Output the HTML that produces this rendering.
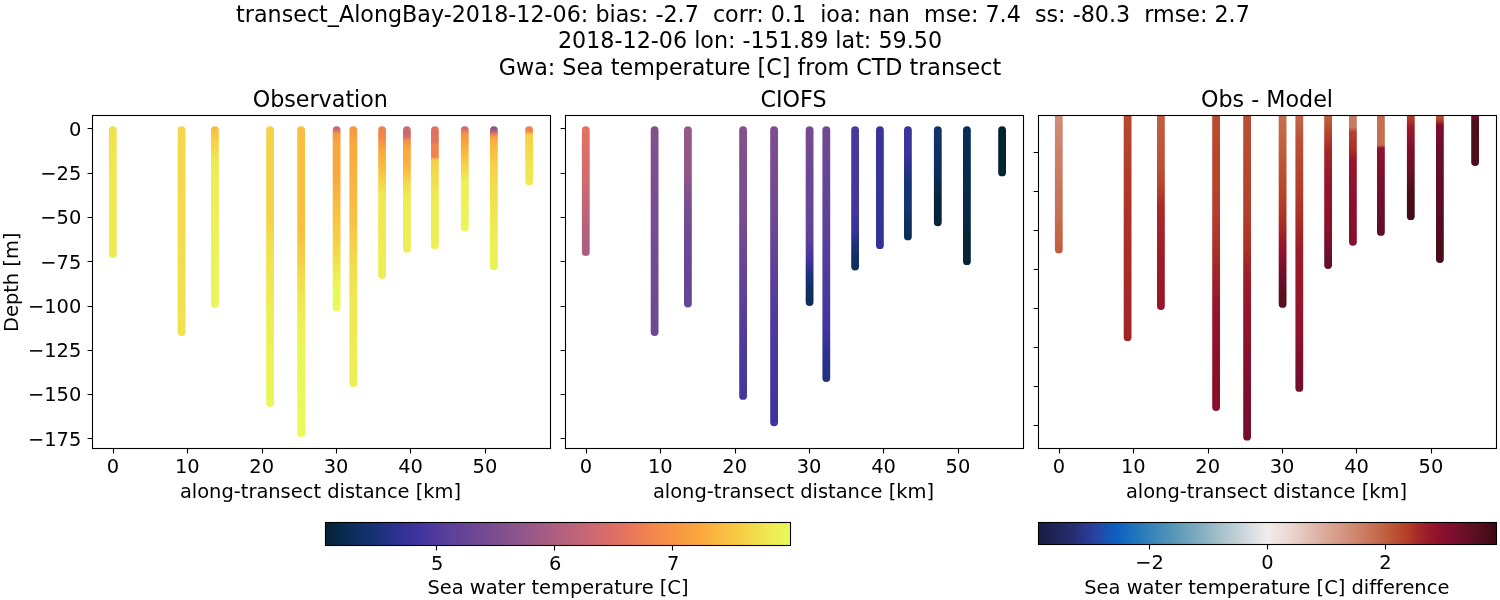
<!DOCTYPE html>
<html lang="en"><head><meta charset="utf-8"><title>transect_AlongBay-2018-12-06</title>
<style>html,body{margin:0;padding:0;background:#fff;}body{width:1500px;height:600px;overflow:hidden;}svg{display:block;}text{font-family:"DejaVu Sans","Liberation Sans",sans-serif;fill:#000;font-variant-ligatures:none;font-feature-settings:"liga" 0,"clig" 0;}.t16{font-size:22.222px;}.t14{font-size:19.444px;}.m{text-anchor:middle;}.e{text-anchor:end;}</style></head><body>
<svg width="1500" height="600" viewBox="0 0 1500 600">
<rect x="0" y="0" width="1500" height="600" fill="#ffffff"/>
<defs>
<linearGradient id="a0" gradientUnits="userSpaceOnUse" x1="0" y1="126" x2="0" y2="258">
<stop offset="0.0000" stop-color="#F2DE4D"/>
<stop offset="0.3333" stop-color="#F0E851"/>
<stop offset="1.0000" stop-color="#EFEA52"/>
</linearGradient>
<linearGradient id="b0" gradientUnits="userSpaceOnUse" x1="0" y1="126" x2="0" y2="256">
<stop offset="0.0000" stop-color="#E37260"/>
<stop offset="0.3385" stop-color="#D56C6B"/>
<stop offset="0.6538" stop-color="#BF6478"/>
<stop offset="1.0000" stop-color="#A75E82"/>
</linearGradient>
<linearGradient id="c0" gradientUnits="userSpaceOnUse" x1="0" y1="115" x2="0" y2="253">
<stop offset="0.0000" stop-color="#D08D76"/>
<stop offset="0.6957" stop-color="#C67053"/>
<stop offset="1.0000" stop-color="#BF5E3E"/>
</linearGradient>
<linearGradient id="a1" gradientUnits="userSpaceOnUse" x1="0" y1="126" x2="0" y2="336">
<stop offset="0.0000" stop-color="#F4D74A"/>
<stop offset="0.4952" stop-color="#F3DC4C"/>
<stop offset="1.0000" stop-color="#F1E34F"/>
</linearGradient>
<linearGradient id="b1" gradientUnits="userSpaceOnUse" x1="0" y1="126" x2="0" y2="336">
<stop offset="0.0000" stop-color="#84518D"/>
<stop offset="0.3524" stop-color="#794D90"/>
<stop offset="0.8286" stop-color="#704993"/>
<stop offset="1.0000" stop-color="#6D4794"/>
</linearGradient>
<linearGradient id="c1" gradientUnits="userSpaceOnUse" x1="0" y1="115" x2="0" y2="341">
<stop offset="0.0000" stop-color="#B7492F"/>
<stop offset="0.4248" stop-color="#AD3429"/>
<stop offset="0.8496" stop-color="#A52827"/>
<stop offset="1.0000" stop-color="#A32427"/>
</linearGradient>
<linearGradient id="a2" gradientUnits="userSpaceOnUse" x1="0" y1="126" x2="0" y2="308">
<stop offset="0.0000" stop-color="#F9BA41"/>
<stop offset="0.0769" stop-color="#F6D047"/>
<stop offset="0.2143" stop-color="#EEEC53"/>
<stop offset="0.4066" stop-color="#EDEF55"/>
<stop offset="1.0000" stop-color="#EAF659"/>
</linearGradient>
<linearGradient id="b2" gradientUnits="userSpaceOnUse" x1="0" y1="126" x2="0" y2="307">
<stop offset="0.0000" stop-color="#965988"/>
<stop offset="0.2983" stop-color="#8E568A"/>
<stop offset="0.4365" stop-color="#794D90"/>
<stop offset="0.7403" stop-color="#6A4695"/>
<stop offset="1.0000" stop-color="#644497"/>
</linearGradient>
<linearGradient id="c2" gradientUnits="userSpaceOnUse" x1="0" y1="115" x2="0" y2="310">
<stop offset="0.0000" stop-color="#C06140"/>
<stop offset="0.2821" stop-color="#BA5034"/>
<stop offset="0.3846" stop-color="#B4412B"/>
<stop offset="0.4615" stop-color="#A82C28"/>
<stop offset="0.7436" stop-color="#9B1C29"/>
<stop offset="1.0000" stop-color="#96162B"/>
</linearGradient>
<linearGradient id="a3" gradientUnits="userSpaceOnUse" x1="0" y1="126" x2="0" y2="407">
<stop offset="0.0000" stop-color="#F5D348"/>
<stop offset="0.3345" stop-color="#F5D348"/>
<stop offset="0.4413" stop-color="#F2E14E"/>
<stop offset="0.7260" stop-color="#EDEF55"/>
<stop offset="1.0000" stop-color="#EAF659"/>
</linearGradient>
<linearGradient id="b3" gradientUnits="userSpaceOnUse" x1="0" y1="126" x2="0" y2="400">
<stop offset="0.0000" stop-color="#84518D"/>
<stop offset="0.3102" stop-color="#794D90"/>
<stop offset="0.5255" stop-color="#674596"/>
<stop offset="0.6606" stop-color="#5A3F9A"/>
<stop offset="0.8175" stop-color="#4D3A9C"/>
<stop offset="1.0000" stop-color="#44369E"/>
</linearGradient>
<linearGradient id="c3" gradientUnits="userSpaceOnUse" x1="0" y1="115" x2="0" y2="411">
<stop offset="0.0000" stop-color="#B84C31"/>
<stop offset="0.3243" stop-color="#B4412B"/>
<stop offset="0.4561" stop-color="#AA3028"/>
<stop offset="0.5574" stop-color="#A02128"/>
<stop offset="0.6486" stop-color="#96162B"/>
<stop offset="0.7939" stop-color="#8E112C"/>
<stop offset="1.0000" stop-color="#840F2D"/>
</linearGradient>
<linearGradient id="a4" gradientUnits="userSpaceOnUse" x1="0" y1="126" x2="0" y2="437">
<stop offset="0.0000" stop-color="#F9BF42"/>
<stop offset="0.3505" stop-color="#F8C142"/>
<stop offset="0.4309" stop-color="#F6D047"/>
<stop offset="0.5595" stop-color="#F0E851"/>
<stop offset="0.7203" stop-color="#EAF659"/>
<stop offset="1.0000" stop-color="#E8FA5B"/>
</linearGradient>
<linearGradient id="b4" gradientUnits="userSpaceOnUse" x1="0" y1="126" x2="0" y2="426">
<stop offset="0.0000" stop-color="#7D4E8F"/>
<stop offset="0.2833" stop-color="#704993"/>
<stop offset="0.4467" stop-color="#614298"/>
<stop offset="0.6033" stop-color="#513B9C"/>
<stop offset="0.7467" stop-color="#49389D"/>
<stop offset="1.0000" stop-color="#3C339C"/>
</linearGradient>
<linearGradient id="c4" gradientUnits="userSpaceOnUse" x1="0" y1="115" x2="0" y2="440">
<stop offset="0.0000" stop-color="#BA5034"/>
<stop offset="0.2954" stop-color="#B4412B"/>
<stop offset="0.4154" stop-color="#AA3028"/>
<stop offset="0.4923" stop-color="#9E1E29"/>
<stop offset="0.5908" stop-color="#96162B"/>
<stop offset="0.7231" stop-color="#8A112D"/>
<stop offset="0.8769" stop-color="#7E0E2E"/>
<stop offset="1.0000" stop-color="#740E2C"/>
</linearGradient>
<linearGradient id="a5" gradientUnits="userSpaceOnUse" x1="0" y1="126" x2="0" y2="311">
<stop offset="0.0000" stop-color="#B8627B"/>
<stop offset="0.0216" stop-color="#D56C6B"/>
<stop offset="0.0432" stop-color="#F79942"/>
<stop offset="0.1027" stop-color="#FAA63C"/>
<stop offset="0.2649" stop-color="#FAA63C"/>
<stop offset="0.3459" stop-color="#F9B23F"/>
<stop offset="0.4811" stop-color="#F8C343"/>
<stop offset="0.6162" stop-color="#F6D047"/>
<stop offset="0.7784" stop-color="#F0E851"/>
<stop offset="0.8865" stop-color="#E8FA5B"/>
<stop offset="1.0000" stop-color="#E8FA5B"/>
</linearGradient>
<linearGradient id="b5" gradientUnits="userSpaceOnUse" x1="0" y1="126" x2="0" y2="306">
<stop offset="0.0000" stop-color="#764B91"/>
<stop offset="0.4722" stop-color="#674596"/>
<stop offset="0.6333" stop-color="#5E4199"/>
<stop offset="0.7444" stop-color="#40349F"/>
<stop offset="0.8278" stop-color="#1D327D"/>
<stop offset="0.9111" stop-color="#0E2F61"/>
<stop offset="1.0000" stop-color="#0C2E5C"/>
</linearGradient>
<linearGradient id="c5" gradientUnits="userSpaceOnUse" x1="0" y1="115" x2="0" y2="308">
<stop offset="0.0000" stop-color="#C67053"/>
<stop offset="0.2332" stop-color="#BD5739"/>
<stop offset="0.4404" stop-color="#B4412B"/>
<stop offset="0.5959" stop-color="#A52827"/>
<stop offset="0.6736" stop-color="#96162B"/>
<stop offset="0.7513" stop-color="#840F2D"/>
<stop offset="0.8549" stop-color="#6A0F29"/>
<stop offset="0.9585" stop-color="#570E20"/>
<stop offset="1.0000" stop-color="#570E20"/>
</linearGradient>
<linearGradient id="a6" gradientUnits="userSpaceOnUse" x1="0" y1="126" x2="0" y2="387">
<stop offset="0.0000" stop-color="#F79544"/>
<stop offset="0.0536" stop-color="#FAA63C"/>
<stop offset="0.1494" stop-color="#FAAE3E"/>
<stop offset="0.2835" stop-color="#F9BA41"/>
<stop offset="0.3793" stop-color="#F8C343"/>
<stop offset="0.5134" stop-color="#F4DA4B"/>
<stop offset="0.6667" stop-color="#F0E851"/>
<stop offset="1.0000" stop-color="#EDEF55"/>
</linearGradient>
<linearGradient id="b6" gradientUnits="userSpaceOnUse" x1="0" y1="126" x2="0" y2="382">
<stop offset="0.0000" stop-color="#704993"/>
<stop offset="0.3320" stop-color="#614298"/>
<stop offset="0.6797" stop-color="#49389D"/>
<stop offset="0.7969" stop-color="#40349F"/>
<stop offset="0.8945" stop-color="#2A3190"/>
<stop offset="1.0000" stop-color="#1D327D"/>
</linearGradient>
<linearGradient id="c6" gradientUnits="userSpaceOnUse" x1="0" y1="115" x2="0" y2="392">
<stop offset="0.0000" stop-color="#C46A4C"/>
<stop offset="0.0903" stop-color="#BA5034"/>
<stop offset="0.2347" stop-color="#B4412B"/>
<stop offset="0.3466" stop-color="#AD3429"/>
<stop offset="0.4152" stop-color="#A52827"/>
<stop offset="0.4874" stop-color="#9B1C29"/>
<stop offset="0.6679" stop-color="#96162B"/>
<stop offset="0.8123" stop-color="#8A112D"/>
<stop offset="0.9206" stop-color="#770E2D"/>
<stop offset="1.0000" stop-color="#710E2B"/>
</linearGradient>
<linearGradient id="a7" gradientUnits="userSpaceOnUse" x1="0" y1="126" x2="0" y2="279">
<stop offset="0.0000" stop-color="#ED7E53"/>
<stop offset="0.0784" stop-color="#F58B48"/>
<stop offset="0.1569" stop-color="#FAA63C"/>
<stop offset="0.2549" stop-color="#F9BA41"/>
<stop offset="0.3529" stop-color="#F6D047"/>
<stop offset="0.4510" stop-color="#F0E851"/>
<stop offset="1.0000" stop-color="#EEED54"/>
</linearGradient>
<linearGradient id="b7" gradientUnits="userSpaceOnUse" x1="0" y1="126" x2="0" y2="270">
<stop offset="0.0000" stop-color="#49389D"/>
<stop offset="0.5903" stop-color="#44369E"/>
<stop offset="0.7222" stop-color="#373399"/>
<stop offset="0.8264" stop-color="#1D327D"/>
<stop offset="0.9306" stop-color="#0E2F61"/>
<stop offset="1.0000" stop-color="#0C2E5C"/>
</linearGradient>
<linearGradient id="c7" gradientUnits="userSpaceOnUse" x1="0" y1="115" x2="0" y2="269">
<stop offset="0.0000" stop-color="#C06140"/>
<stop offset="0.1299" stop-color="#B4412B"/>
<stop offset="0.2273" stop-color="#A52827"/>
<stop offset="0.4221" stop-color="#96162B"/>
<stop offset="0.6234" stop-color="#8E112C"/>
<stop offset="0.7792" stop-color="#840F2D"/>
<stop offset="0.9091" stop-color="#6A0F29"/>
<stop offset="1.0000" stop-color="#640F26"/>
</linearGradient>
<linearGradient id="a8" gradientUnits="userSpaceOnUse" x1="0" y1="126" x2="0" y2="253">
<stop offset="0.0000" stop-color="#CB6873"/>
<stop offset="0.0787" stop-color="#CE6970"/>
<stop offset="0.1102" stop-color="#F58B48"/>
<stop offset="0.1732" stop-color="#FAA63C"/>
<stop offset="0.3071" stop-color="#F9B23F"/>
<stop offset="0.3858" stop-color="#F8C744"/>
<stop offset="0.4646" stop-color="#F2DE4D"/>
<stop offset="0.5827" stop-color="#EEEC53"/>
<stop offset="1.0000" stop-color="#EDEF55"/>
</linearGradient>
<linearGradient id="b8" gradientUnits="userSpaceOnUse" x1="0" y1="126" x2="0" y2="249">
<stop offset="0.0000" stop-color="#3C339C"/>
<stop offset="1.0000" stop-color="#333296"/>
</linearGradient>
<linearGradient id="c8" gradientUnits="userSpaceOnUse" x1="0" y1="115" x2="0" y2="246">
<stop offset="0.0000" stop-color="#CA7C62"/>
<stop offset="0.0916" stop-color="#CA7C62"/>
<stop offset="0.1298" stop-color="#B4412B"/>
<stop offset="0.2672" stop-color="#AA3028"/>
<stop offset="0.3435" stop-color="#96162B"/>
<stop offset="0.7328" stop-color="#8A112D"/>
<stop offset="1.0000" stop-color="#87102D"/>
</linearGradient>
<linearGradient id="a9" gradientUnits="userSpaceOnUse" x1="0" y1="126" x2="0" y2="249">
<stop offset="0.0000" stop-color="#E07062"/>
<stop offset="0.1301" stop-color="#E37260"/>
<stop offset="0.1463" stop-color="#EF8250"/>
<stop offset="0.2520" stop-color="#F2854D"/>
<stop offset="0.2764" stop-color="#F6D047"/>
<stop offset="0.4390" stop-color="#F2DE4D"/>
<stop offset="0.6016" stop-color="#EEEC53"/>
<stop offset="1.0000" stop-color="#EDEF55"/>
</linearGradient>
<linearGradient id="b9" gradientUnits="userSpaceOnUse" x1="0" y1="126" x2="0" y2="240">
<stop offset="0.0000" stop-color="#3C339C"/>
<stop offset="0.2544" stop-color="#3C339C"/>
<stop offset="0.4737" stop-color="#183276"/>
<stop offset="0.7456" stop-color="#143270"/>
<stop offset="0.8684" stop-color="#0C2E5C"/>
<stop offset="1.0000" stop-color="#0A2D57"/>
</linearGradient>
<linearGradient id="c9" gradientUnits="userSpaceOnUse" x1="0" y1="115" x2="0" y2="236">
<stop offset="0.0000" stop-color="#C67053"/>
<stop offset="0.2479" stop-color="#C67053"/>
<stop offset="0.2727" stop-color="#8E112C"/>
<stop offset="0.5372" stop-color="#7E0E2E"/>
<stop offset="0.7934" stop-color="#6A0F29"/>
<stop offset="1.0000" stop-color="#5D0E23"/>
</linearGradient>
<linearGradient id="a10" gradientUnits="userSpaceOnUse" x1="0" y1="126" x2="0" y2="231">
<stop offset="0.0000" stop-color="#C36576"/>
<stop offset="0.0286" stop-color="#D56C6B"/>
<stop offset="0.0667" stop-color="#F58B48"/>
<stop offset="0.1333" stop-color="#F99F3F"/>
<stop offset="0.2286" stop-color="#F9B23F"/>
<stop offset="0.3238" stop-color="#F8C744"/>
<stop offset="0.4190" stop-color="#F4DA4B"/>
<stop offset="0.5143" stop-color="#EDEF55"/>
<stop offset="1.0000" stop-color="#EAF659"/>
</linearGradient>
<linearGradient id="b10" gradientUnits="userSpaceOnUse" x1="0" y1="126" x2="0" y2="226">
<stop offset="0.0000" stop-color="#12316B"/>
<stop offset="0.4400" stop-color="#0C2E5C"/>
<stop offset="0.7400" stop-color="#05253A"/>
<stop offset="1.0000" stop-color="#05253A"/>
</linearGradient>
<linearGradient id="c10" gradientUnits="userSpaceOnUse" x1="0" y1="115" x2="0" y2="220">
<stop offset="0.0000" stop-color="#B6452C"/>
<stop offset="0.1143" stop-color="#9B1C29"/>
<stop offset="0.2857" stop-color="#840F2D"/>
<stop offset="0.5238" stop-color="#6A0F29"/>
<stop offset="0.7619" stop-color="#490C19"/>
<stop offset="1.0000" stop-color="#430A16"/>
</linearGradient>
<linearGradient id="a11" gradientUnits="userSpaceOnUse" x1="0" y1="126" x2="0" y2="270">
<stop offset="0.0000" stop-color="#7D4E8F"/>
<stop offset="0.0278" stop-color="#9B5A86"/>
<stop offset="0.0486" stop-color="#DC6F65"/>
<stop offset="0.0764" stop-color="#F99F3F"/>
<stop offset="0.1042" stop-color="#FAAE3E"/>
<stop offset="0.1667" stop-color="#F9BF42"/>
<stop offset="0.2708" stop-color="#F6D047"/>
<stop offset="0.4444" stop-color="#F2DE4D"/>
<stop offset="0.7222" stop-color="#EEEC53"/>
<stop offset="1.0000" stop-color="#EBF357"/>
</linearGradient>
<linearGradient id="b11" gradientUnits="userSpaceOnUse" x1="0" y1="126" x2="0" y2="265">
<stop offset="0.0000" stop-color="#0A2D57"/>
<stop offset="0.6115" stop-color="#082949"/>
<stop offset="0.7842" stop-color="#05253A"/>
<stop offset="1.0000" stop-color="#052437"/>
</linearGradient>
<linearGradient id="c11" gradientUnits="userSpaceOnUse" x1="0" y1="115" x2="0" y2="263">
<stop offset="0.0000" stop-color="#BF5E3E"/>
<stop offset="0.0338" stop-color="#B4412B"/>
<stop offset="0.0676" stop-color="#7E0E2E"/>
<stop offset="0.2365" stop-color="#6A0F29"/>
<stop offset="0.6486" stop-color="#5A0E22"/>
<stop offset="0.8446" stop-color="#4D0D1B"/>
<stop offset="1.0000" stop-color="#490C19"/>
</linearGradient>
<linearGradient id="a12" gradientUnits="userSpaceOnUse" x1="0" y1="126" x2="0" y2="185">
<stop offset="0.0000" stop-color="#ED7E53"/>
<stop offset="0.0847" stop-color="#F2854D"/>
<stop offset="0.1525" stop-color="#F6D047"/>
<stop offset="0.4068" stop-color="#F4DA4B"/>
<stop offset="0.7458" stop-color="#F0E851"/>
<stop offset="1.0000" stop-color="#EFEA52"/>
</linearGradient>
<linearGradient id="b12" gradientUnits="userSpaceOnUse" x1="0" y1="126" x2="0" y2="176">
<stop offset="0.0000" stop-color="#042333"/>
<stop offset="1.0000" stop-color="#042333"/>
</linearGradient>
<linearGradient id="c12" gradientUnits="userSpaceOnUse" x1="0" y1="115" x2="0" y2="166">
<stop offset="0.0000" stop-color="#91122C"/>
<stop offset="0.0980" stop-color="#500D1D"/>
<stop offset="1.0000" stop-color="#4D0D1B"/>
</linearGradient>
<linearGradient id="cb1" x1="0" y1="0" x2="1" y2="0">
<stop offset="0.0000" stop-color="#042333"/>
<stop offset="0.0156" stop-color="#06263E"/>
<stop offset="0.0312" stop-color="#08294A"/>
<stop offset="0.0469" stop-color="#0A2C55"/>
<stop offset="0.0625" stop-color="#0C2E5D"/>
<stop offset="0.0781" stop-color="#103065"/>
<stop offset="0.0938" stop-color="#13316D"/>
<stop offset="0.1094" stop-color="#183276"/>
<stop offset="0.1250" stop-color="#1F3280"/>
<stop offset="0.1406" stop-color="#26318A"/>
<stop offset="0.1562" stop-color="#2D3192"/>
<stop offset="0.1719" stop-color="#343297"/>
<stop offset="0.1875" stop-color="#3A339B"/>
<stop offset="0.2031" stop-color="#41359F"/>
<stop offset="0.2188" stop-color="#48379D"/>
<stop offset="0.2344" stop-color="#4F3A9C"/>
<stop offset="0.2500" stop-color="#553D9B"/>
<stop offset="0.2656" stop-color="#5C4099"/>
<stop offset="0.2812" stop-color="#614298"/>
<stop offset="0.2969" stop-color="#664496"/>
<stop offset="0.3125" stop-color="#6B4695"/>
<stop offset="0.3281" stop-color="#704893"/>
<stop offset="0.3438" stop-color="#744A91"/>
<stop offset="0.3594" stop-color="#794D90"/>
<stop offset="0.3750" stop-color="#7F4F8E"/>
<stop offset="0.3906" stop-color="#84528D"/>
<stop offset="0.4062" stop-color="#89548C"/>
<stop offset="0.4219" stop-color="#8F578A"/>
<stop offset="0.4375" stop-color="#955888"/>
<stop offset="0.4531" stop-color="#9C5A86"/>
<stop offset="0.4688" stop-color="#A35C84"/>
<stop offset="0.4844" stop-color="#A95E81"/>
<stop offset="0.5000" stop-color="#B0607F"/>
<stop offset="0.5156" stop-color="#B6627C"/>
<stop offset="0.5312" stop-color="#BC6379"/>
<stop offset="0.5469" stop-color="#C26577"/>
<stop offset="0.5625" stop-color="#C86774"/>
<stop offset="0.5781" stop-color="#CE6971"/>
<stop offset="0.5938" stop-color="#D36B6C"/>
<stop offset="0.6094" stop-color="#D96D68"/>
<stop offset="0.6250" stop-color="#DE7064"/>
<stop offset="0.6406" stop-color="#E4725F"/>
<stop offset="0.6562" stop-color="#E7775B"/>
<stop offset="0.6719" stop-color="#EB7C56"/>
<stop offset="0.6875" stop-color="#EF8151"/>
<stop offset="0.7031" stop-color="#F2864C"/>
<stop offset="0.7188" stop-color="#F58B49"/>
<stop offset="0.7344" stop-color="#F69046"/>
<stop offset="0.7500" stop-color="#F79544"/>
<stop offset="0.7656" stop-color="#F89B41"/>
<stop offset="0.7812" stop-color="#F9A03F"/>
<stop offset="0.7969" stop-color="#FAA53C"/>
<stop offset="0.8125" stop-color="#FAAB3D"/>
<stop offset="0.8281" stop-color="#F9B23F"/>
<stop offset="0.8438" stop-color="#F9B840"/>
<stop offset="0.8594" stop-color="#F9BE42"/>
<stop offset="0.8750" stop-color="#F8C543"/>
<stop offset="0.8906" stop-color="#F7CC45"/>
<stop offset="0.9062" stop-color="#F5D349"/>
<stop offset="0.9219" stop-color="#F3DB4C"/>
<stop offset="0.9375" stop-color="#F1E24F"/>
<stop offset="0.9531" stop-color="#F0E952"/>
<stop offset="0.9688" stop-color="#EDEF55"/>
<stop offset="0.9844" stop-color="#EAF458"/>
<stop offset="1.0000" stop-color="#E8FA5B"/>
</linearGradient>
<linearGradient id="cb2" x1="0" y1="0" x2="1" y2="0">
<stop offset="0.0000" stop-color="#181C43"/>
<stop offset="0.0156" stop-color="#1B1F4C"/>
<stop offset="0.0312" stop-color="#1E2355"/>
<stop offset="0.0469" stop-color="#21265D"/>
<stop offset="0.0625" stop-color="#242A66"/>
<stop offset="0.0781" stop-color="#262F73"/>
<stop offset="0.0938" stop-color="#283584"/>
<stop offset="0.1094" stop-color="#2A3B94"/>
<stop offset="0.1250" stop-color="#2843A3"/>
<stop offset="0.1406" stop-color="#1D4DAE"/>
<stop offset="0.1562" stop-color="#1258B9"/>
<stop offset="0.1719" stop-color="#0D61BF"/>
<stop offset="0.1875" stop-color="#1468BE"/>
<stop offset="0.2031" stop-color="#1C70BC"/>
<stop offset="0.2188" stop-color="#2577BA"/>
<stop offset="0.2344" stop-color="#2F7EB9"/>
<stop offset="0.2500" stop-color="#3885B9"/>
<stop offset="0.2656" stop-color="#438BB9"/>
<stop offset="0.2812" stop-color="#4D91B8"/>
<stop offset="0.2969" stop-color="#5797B8"/>
<stop offset="0.3125" stop-color="#649EBA"/>
<stop offset="0.3281" stop-color="#70A4BD"/>
<stop offset="0.3438" stop-color="#7CAABF"/>
<stop offset="0.3594" stop-color="#88B0C2"/>
<stop offset="0.3750" stop-color="#94B7C5"/>
<stop offset="0.3906" stop-color="#A1BECA"/>
<stop offset="0.4062" stop-color="#ADC5CE"/>
<stop offset="0.4219" stop-color="#B8CBD2"/>
<stop offset="0.4375" stop-color="#C4D2D7"/>
<stop offset="0.4531" stop-color="#D0D9DD"/>
<stop offset="0.4688" stop-color="#DCE0E3"/>
<stop offset="0.4844" stop-color="#E7E6E7"/>
<stop offset="0.5000" stop-color="#F1ECEB"/>
<stop offset="0.5156" stop-color="#EFE6E3"/>
<stop offset="0.5312" stop-color="#EDDFDA"/>
<stop offset="0.5469" stop-color="#EBD9D2"/>
<stop offset="0.5625" stop-color="#E8D0C8"/>
<stop offset="0.5781" stop-color="#E5C6BC"/>
<stop offset="0.5938" stop-color="#E2BDB0"/>
<stop offset="0.6094" stop-color="#DEB3A5"/>
<stop offset="0.6250" stop-color="#DBAB9B"/>
<stop offset="0.6406" stop-color="#D8A290"/>
<stop offset="0.6562" stop-color="#D59A86"/>
<stop offset="0.6719" stop-color="#D2917C"/>
<stop offset="0.6875" stop-color="#CF8971"/>
<stop offset="0.7031" stop-color="#CB8067"/>
<stop offset="0.7188" stop-color="#C8775B"/>
<stop offset="0.7344" stop-color="#C56D50"/>
<stop offset="0.7500" stop-color="#C16444"/>
<stop offset="0.7656" stop-color="#BE5A3B"/>
<stop offset="0.7812" stop-color="#B94F33"/>
<stop offset="0.7969" stop-color="#B5442C"/>
<stop offset="0.8125" stop-color="#AE3729"/>
<stop offset="0.8281" stop-color="#A62928"/>
<stop offset="0.8438" stop-color="#9E1F29"/>
<stop offset="0.8594" stop-color="#96172B"/>
<stop offset="0.8750" stop-color="#8E112C"/>
<stop offset="0.8906" stop-color="#840F2D"/>
<stop offset="0.9062" stop-color="#7A0E2D"/>
<stop offset="0.9219" stop-color="#700F2A"/>
<stop offset="0.9375" stop-color="#650F27"/>
<stop offset="0.9531" stop-color="#5B0E22"/>
<stop offset="0.9688" stop-color="#510D1D"/>
<stop offset="0.9844" stop-color="#460B18"/>
<stop offset="1.0000" stop-color="#3C0912"/>
</linearGradient>
<clipPath id="clip3"><rect x="1038.5" y="115.5" width="458.0" height="333.0"/></clipPath>
</defs>
<text class="t16 m" x="750" y="21.6" xml:space="preserve" style="white-space:pre">transect_AlongBay-2018-12-06: bias: -2.7  corr: 0.1  ioa: nan  mse: 7.4  ss: -80.3  rmse: 2.7  </text>
<text class="t16 m" x="750" y="48.2">2018-12-06 lon: -151.89 lat: 59.50</text>
<text class="t16 m" x="750" y="74.8">Gwa: Sea temperature [C] from CTD transect</text>
<g id="axes1">
<rect x="108.90" y="126.2" width="7.8" height="131.7" rx="3.9" ry="3.9" fill="url(#a0)"/>
<rect x="177.70" y="126.2" width="7.8" height="209.8" rx="3.9" ry="3.9" fill="url(#a1)"/>
<rect x="211.00" y="126.2" width="7.8" height="181.6" rx="3.9" ry="3.9" fill="url(#a2)"/>
<rect x="266.20" y="126.2" width="7.8" height="280.8" rx="3.9" ry="3.9" fill="url(#a3)"/>
<rect x="297.20" y="126.2" width="7.8" height="310.7" rx="3.9" ry="3.9" fill="url(#a4)"/>
<rect x="332.70" y="126.2" width="7.8" height="184.9" rx="3.9" ry="3.9" fill="url(#a5)"/>
<rect x="349.40" y="126.2" width="7.8" height="260.8" rx="3.9" ry="3.9" fill="url(#a6)"/>
<rect x="378.20" y="126.2" width="7.8" height="152.8" rx="3.9" ry="3.9" fill="url(#a7)"/>
<rect x="403.00" y="126.2" width="7.8" height="126.4" rx="3.9" ry="3.9" fill="url(#a8)"/>
<rect x="431.00" y="126.2" width="7.8" height="122.9" rx="3.9" ry="3.9" fill="url(#a9)"/>
<rect x="460.90" y="126.2" width="7.8" height="105.3" rx="3.9" ry="3.9" fill="url(#a10)"/>
<rect x="490.00" y="126.2" width="7.8" height="144.0" rx="3.9" ry="3.9" fill="url(#a11)"/>
<rect x="525.20" y="126.2" width="7.8" height="58.9" rx="3.9" ry="3.9" fill="url(#a12)"/>
<path d="M113.5 448.5v4.9M187.5 448.5v4.9M262.5 448.5v4.9M336.5 448.5v4.9M410.5 448.5v4.9M485.5 448.5v4.9M92.5 128.5h-4.9M92.5 173.5h-4.9M92.5 217.5h-4.9M92.5 261.5h-4.9M92.5 306.5h-4.9M92.5 350.5h-4.9M92.5 394.5h-4.9M92.5 438.5h-4.9" stroke="#000" stroke-width="1.1" fill="none"/>
<rect x="92.5" y="115.5" width="458.0" height="333.0" fill="none" stroke="#000" stroke-width="1.1"/>
<text class="t16 m" x="320.3" y="107.1">Observation</text>
<text class="t14 m" x="112.9" y="472.6">0</text>
<text class="t14 m" x="187.3" y="472.6">10</text>
<text class="t14 m" x="261.7" y="472.6">20</text>
<text class="t14 m" x="336.1" y="472.6">30</text>
<text class="t14 m" x="410.5" y="472.6">40</text>
<text class="t14 m" x="484.9" y="472.6">50</text>
<text class="t14 m" x="320.5" y="497.6">along-transect distance [km]</text>
<text class="t14 e" x="81.3" y="135.7">0</text>
<text class="t14 e" x="81.3" y="180.0">−25</text>
<text class="t14 e" x="81.3" y="224.3">−50</text>
<text class="t14 e" x="81.3" y="268.5">−75</text>
<text class="t14 e" x="81.3" y="312.8">−100</text>
<text class="t14 e" x="81.3" y="357.1">−125</text>
<text class="t14 e" x="81.3" y="401.4">−150</text>
<text class="t14 e" x="81.3" y="445.7">−175</text>
<text class="t14 m" transform="translate(18.1 282.3) rotate(-90)">Depth [m]</text>
</g>
<g id="axes2">
<rect x="581.90" y="126.2" width="7.8" height="129.9" rx="3.9" ry="3.9" fill="url(#b0)"/>
<rect x="650.70" y="126.2" width="7.8" height="209.8" rx="3.9" ry="3.9" fill="url(#b1)"/>
<rect x="684.00" y="126.2" width="7.8" height="181.3" rx="3.9" ry="3.9" fill="url(#b2)"/>
<rect x="739.20" y="126.2" width="7.8" height="273.6" rx="3.9" ry="3.9" fill="url(#b3)"/>
<rect x="770.20" y="126.2" width="7.8" height="300.0" rx="3.9" ry="3.9" fill="url(#b4)"/>
<rect x="805.70" y="126.2" width="7.8" height="179.7" rx="3.9" ry="3.9" fill="url(#b5)"/>
<rect x="822.40" y="126.2" width="7.8" height="255.7" rx="3.9" ry="3.9" fill="url(#b6)"/>
<rect x="851.20" y="126.2" width="7.8" height="144.3" rx="3.9" ry="3.9" fill="url(#b7)"/>
<rect x="876.00" y="126.2" width="7.8" height="122.9" rx="3.9" ry="3.9" fill="url(#b8)"/>
<rect x="904.00" y="126.2" width="7.8" height="114.1" rx="3.9" ry="3.9" fill="url(#b9)"/>
<rect x="933.90" y="126.2" width="7.8" height="100.0" rx="3.9" ry="3.9" fill="url(#b10)"/>
<rect x="963.00" y="126.2" width="7.8" height="138.9" rx="3.9" ry="3.9" fill="url(#b11)"/>
<rect x="998.20" y="126.2" width="7.8" height="50.1" rx="3.9" ry="3.9" fill="url(#b12)"/>
<path d="M586.5 448.5v4.9M660.5 448.5v4.9M735.5 448.5v4.9M809.5 448.5v4.9M883.5 448.5v4.9M958.5 448.5v4.9M565.5 128.5h-4.9M565.5 173.5h-4.9M565.5 217.5h-4.9M565.5 261.5h-4.9M565.5 306.5h-4.9M565.5 350.5h-4.9M565.5 394.5h-4.9M565.5 438.5h-4.9" stroke="#000" stroke-width="1.1" fill="none"/>
<rect x="565.5" y="115.5" width="458.0" height="333.0" fill="none" stroke="#000" stroke-width="1.1"/>
<text class="t16 m" x="793.5" y="107.1">CIOFS</text>
<text class="t14 m" x="585.9" y="472.6">0</text>
<text class="t14 m" x="660.3" y="472.6">10</text>
<text class="t14 m" x="734.7" y="472.6">20</text>
<text class="t14 m" x="809.1" y="472.6">30</text>
<text class="t14 m" x="883.5" y="472.6">40</text>
<text class="t14 m" x="957.9" y="472.6">50</text>
<text class="t14 m" x="793.5" y="497.6">along-transect distance [km]</text>
</g>
<g id="axes3">
<g clip-path="url(#clip3)">
<rect x="1054.90" y="100.0" width="7.8" height="153.4" rx="3.9" ry="3.9" fill="url(#c0)"/>
<rect x="1123.70" y="100.0" width="7.8" height="241.1" rx="3.9" ry="3.9" fill="url(#c1)"/>
<rect x="1157.00" y="100.0" width="7.8" height="209.9" rx="3.9" ry="3.9" fill="url(#c2)"/>
<rect x="1212.20" y="100.0" width="7.8" height="311.0" rx="3.9" ry="3.9" fill="url(#c3)"/>
<rect x="1243.20" y="100.0" width="7.8" height="340.6" rx="3.9" ry="3.9" fill="url(#c4)"/>
<rect x="1278.70" y="100.0" width="7.8" height="207.8" rx="3.9" ry="3.9" fill="url(#c5)"/>
<rect x="1295.40" y="100.0" width="7.8" height="291.8" rx="3.9" ry="3.9" fill="url(#c6)"/>
<rect x="1324.20" y="100.0" width="7.8" height="168.9" rx="3.9" ry="3.9" fill="url(#c7)"/>
<rect x="1349.00" y="100.0" width="7.8" height="145.7" rx="3.9" ry="3.9" fill="url(#c8)"/>
<rect x="1377.00" y="100.0" width="7.8" height="135.8" rx="3.9" ry="3.9" fill="url(#c9)"/>
<rect x="1406.90" y="100.0" width="7.8" height="120.1" rx="3.9" ry="3.9" fill="url(#c10)"/>
<rect x="1436.00" y="100.0" width="7.8" height="163.0" rx="3.9" ry="3.9" fill="url(#c11)"/>
<rect x="1471.20" y="100.0" width="7.8" height="65.9" rx="3.9" ry="3.9" fill="url(#c12)"/>
</g>
<path d="M1059.5 448.5v4.9M1133.5 448.5v4.9M1208.5 448.5v4.9M1282.5 448.5v4.9M1356.5 448.5v4.9M1431.5 448.5v4.9M1038.5 152.5h-4.9M1038.5 191.5h-4.9M1038.5 230.5h-4.9M1038.5 269.5h-4.9M1038.5 308.5h-4.9M1038.5 347.5h-4.9M1038.5 386.5h-4.9M1038.5 425.5h-4.9" stroke="#000" stroke-width="1.1" fill="none"/>
<rect x="1038.5" y="115.5" width="458.0" height="333.0" fill="none" stroke="#000" stroke-width="1.1"/>
<text class="t16 m" x="1267.0" y="107.1">Obs - Model</text>
<text class="t14 m" x="1058.9" y="472.6">0</text>
<text class="t14 m" x="1133.3" y="472.6">10</text>
<text class="t14 m" x="1207.7" y="472.6">20</text>
<text class="t14 m" x="1282.1" y="472.6">30</text>
<text class="t14 m" x="1356.5" y="472.6">40</text>
<text class="t14 m" x="1430.9" y="472.6">50</text>
<text class="t14 m" x="1266.5" y="497.6">along-transect distance [km]</text>
</g>
<g id="cbar1">
<rect x="325.5" y="522.5" width="465" height="23" fill="url(#cb1)"/>
<path d="M436.5 545.5v4.9M554.5 545.5v4.9M672.5 545.5v4.9" stroke="#000" stroke-width="1.1"/>
<rect x="325.5" y="522.5" width="465" height="23" fill="none" stroke="#000" stroke-width="1.1"/>
<text class="t14 m" x="437.1" y="569.6">5</text>
<text class="t14 m" x="555.1" y="569.6">6</text>
<text class="t14 m" x="673.1" y="569.6">7</text>
<text class="t14 m" x="558" y="594.4">Sea water temperature [C]</text>
</g>
<g id="cbar2">
<rect x="1038.5" y="522.5" width="458" height="22" fill="url(#cb2)"/>
<path d="M1149.5 544.5v4.9M1267.5 544.5v4.9M1385.5 544.5v4.9" stroke="#000" stroke-width="1.1"/>
<rect x="1038.5" y="522.5" width="458" height="22" fill="none" stroke="#000" stroke-width="1.1"/>
<text class="t14 m" x="1149.5" y="568.6">−2</text>
<text class="t14 m" x="1267.5" y="568.6">0</text>
<text class="t14 m" x="1385.5" y="568.6">2</text>
<text class="t14 m" x="1266.8" y="594.2">Sea water temperature [C] difference</text>
</g>
</svg></body></html>
